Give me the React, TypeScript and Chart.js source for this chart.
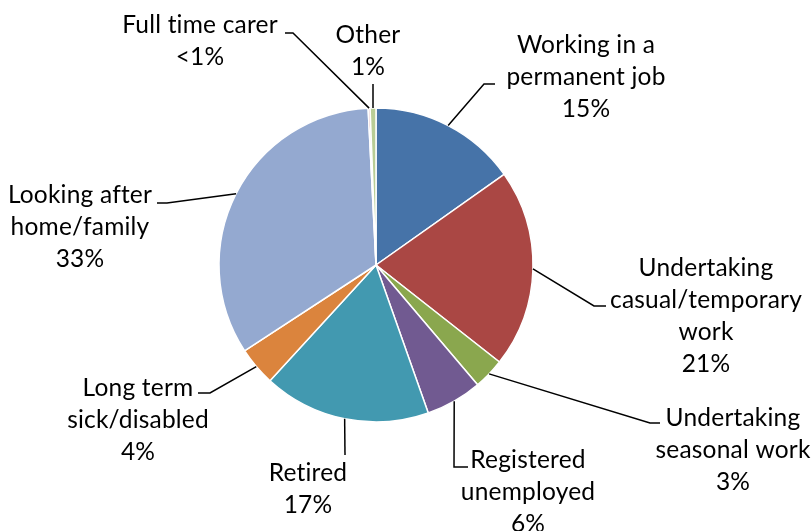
import React, { useEffect, useRef } from "react";
import { Chart, registerables } from "chart.js";

Chart.register(...registerables);

const categories = [
  "Working in a permanent job",
  "Undertaking casual/temporary work",
  "Undertaking seasonal work",
  "Registered unemployed",
  "Retired",
  "Long term sick/disabled",
  "Looking after home/family",
  "Full time carer",
  "Other",
];
const values = [15.2, 20.4, 3.2, 5.8, 17.2, 4.0, 33.4, 0.2, 0.6];
const percentLabels = ["15%", "21%", "3%", "6%", "17%", "4%", "33%", "<1%", "1%"];
const labelLines = [
  ["Working in a", "permanent job"],
  ["Undertaking", "casual/temporary", "work"],
  ["Undertaking", "seasonal work"],
  ["Registered", "unemployed"],
  ["Retired"],
  ["Long term", "sick/disabled"],
  ["Looking after", "home/family"],
  ["Full time carer"],
  ["Other"],
];
const colors = ["#4673A8", "#AA4744", "#8AA74E", "#715A91", "#4299B0", "#DB843D", "#94A9D0", "#D39495", "#B9CD96"];

// label layout: text centre x, first line y, elbow point, end of leader
const labelLayout = [
  { tx: 586, ty: 45, ex: 484, ey: 84, lx: 495, ly: 84 },
  { tx: 706, ty: 268, ex: 594, ey: 306, lx: 606, ly: 306 },
  { tx: 733, ty: 418, ex: 650, ey: 423, lx: 660, ly: 423 },
  { tx: 528, ty: 460, ex: 454, ey: 467, lx: 468, ly: 467 },
  { tx: 308, ty: 473, ex: 345, ey: 455, lx: 345, ly: 455 },
  { tx: 138, ty: 388, ex: 210, ey: 393, lx: 198, ly: 393 },
  { tx: 80, ty: 195, ex: 167, ey: 203, lx: 157, ly: 203 },
  { tx: 200, ty: 25, ex: 293, ey: 33, lx: 285, ly: 33 },
  { tx: 368, ty: 35, ex: 373, ey: 84, lx: 373, ly: 84 },
];

const FONT = "24.5px Lato";
const LINE_H = 32;

const labelPlugin = {
  id: "outerLabels",
  afterDatasetsDraw(chart: any) {
    const ctx = chart.ctx;
    const meta = chart.getDatasetMeta(0);
    ctx.save();
    meta.data.forEach((arc: any, i: number) => {
      const p = arc.getProps(["x", "y", "startAngle", "endAngle", "outerRadius"], true);
      const mid = (p.startAngle + p.endAngle) / 2;
      const ax = p.x + Math.cos(mid) * p.outerRadius;
      const ay = p.y + Math.sin(mid) * p.outerRadius;
      const L = labelLayout[i];
      ctx.strokeStyle = "#000";
      ctx.lineWidth = 1.5;
      ctx.beginPath();
      ctx.moveTo(ax, ay);
      ctx.lineTo(L.ex, L.ey);
      ctx.lineTo(L.lx, L.ly);
      ctx.stroke();
      ctx.fillStyle = "#000";
      ctx.font = FONT;
      (ctx as any).letterSpacing = "0.2px";
      ctx.textAlign = "center";
      ctx.textBaseline = "middle";
      const lines = [...labelLines[i], percentLabels[i]];
      lines.forEach((t, k) => ctx.fillText(t, L.tx, L.ty + k * LINE_H));
    });
    ctx.restore();
  },
};

export default function App() {
  const ref = useRef<HTMLCanvasElement>(null);
  useEffect(() => {
    const chart = new Chart(ref.current!, {
      type: "pie",
      data: {
        labels: categories,
        datasets: [
          {
            data: values,
            backgroundColor: colors,
            borderColor: "#fff",
            borderWidth: 1.5,
            hoverOffset: 0,
          },
        ],
      },
      options: {
        animation: false,
        responsive: false,
        radius: 157,
        layout: { padding: { left: 219, right: 278, top: 108, bottom: 109 } },
        plugins: { legend: { display: false }, tooltip: { enabled: false } },
        events: [],
      } as any,
      plugins: [labelPlugin],
    });
    return () => chart.destroy();
  }, []);
  return (
    <div style={{ position: "fixed", left: 0, top: 0, width: 811, height: 531, background: "#fff" }}>
      <canvas ref={ref} width={811} height={531} />
    </div>
  );
}
